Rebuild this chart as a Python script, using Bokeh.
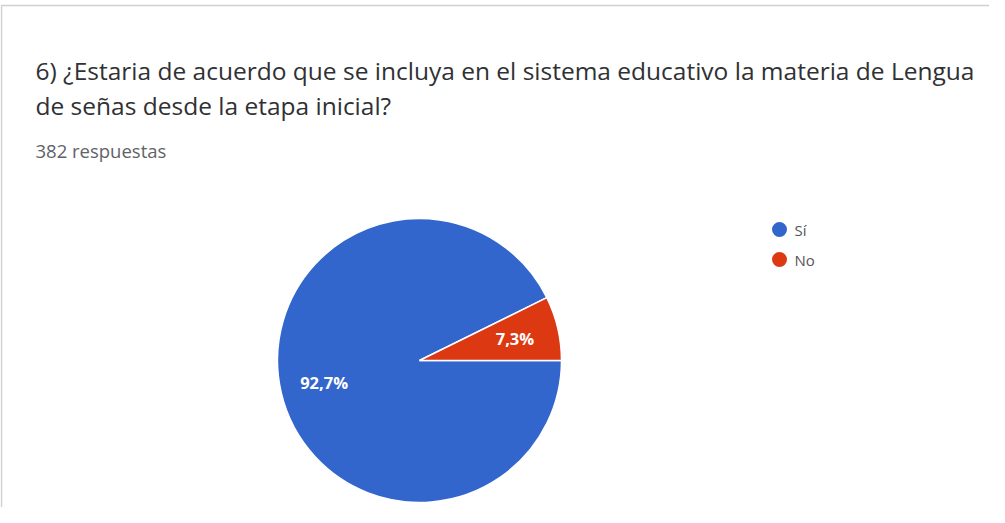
import math
from bokeh.plotting import figure
from bokeh.models import Range1d, ColumnDataSource
from bokeh.core.properties import value
from bokeh.embed import file_html
from bokeh.resources import INLINE

# ---- data ----
title_lines = [
    "6) ¿Estaria de acuerdo que se incluya en el sistema educativo la materia de Lengua",
    "de señas desde la etapa inicial?",
]
subtitle = "382 respuestas"
categories = ["Sí", "No"]
percentages = [92.7, 7.3]
colors = ["#3366CC", "#DC3912"]
labels = ["92,7%", "7,3%"]

W, H = 989, 507
p = figure(width=W, height=H, output_backend="svg", toolbar_location=None,
           x_range=Range1d(0, W), y_range=Range1d(0, H),
           min_border=0, outline_line_color=None)
p.axis.visible = False
p.grid.visible = False
p.background_fill_color = "white"
p.border_fill_color = "white"

# card border
p.quad(left=[1], right=[W + 50], bottom=[-50], top=[502],
       fill_color=None, line_color="#d0d0d0", line_width=1.5)

# title
p.text(x=[35, 35], y=[437, 402], text=title_lines, text_font=value("Open Sans"),
       text_font_size="24.5px", text_color="#303134", text_baseline="middle")
p.text(x=[35], y=[357], text=[subtitle], text_font=value("Open Sans"),
       text_font_size="18.5px", text_color="#5f6368", text_baseline="middle")

# pie: "No" slice starts at 0 going counterclockwise, "Sí" fills rest
cx, cy, R = 419, 147, 142
total = sum(percentages)
no_frac = percentages[1] / total
starts = [no_frac * 2 * math.pi, 0.0]
ends = [2 * math.pi, no_frac * 2 * math.pi]
src = ColumnDataSource(dict(start=starts, end=ends, color=colors, cat=categories))
p.wedge(x=cx, y=cy, radius=R, radius_units="screen", start_angle="start",
        end_angle="end", fill_color="color", line_color="white", line_width=1.5,
        source=src)

# slice labels
lx, ly = [], []
for s, e in zip(starts, ends):
    m = (s + e) / 2
    lx.append(cx + 0.69 * R * math.cos(m))
    ly.append(cy + 0.69 * R * math.sin(m))
p.text(x=lx, y=ly, text=labels, text_font=value("Open Sans"), text_font_size="16.5px",
       text_font_style="bold", text_color="white", text_align="center",
       text_baseline="middle")

# legend
leg_y = [278, 248]
p.scatter(x=[779, 779], y=leg_y, size=15, marker="circle", fill_color=colors,
          line_color=None)
p.text(x=[794, 794], y=leg_y, text=categories, text_font=value("Open Sans"),
       text_font_size="15px", text_color="#555555", text_baseline="middle")

open("out.html", "w").write(file_html(p, INLINE))
